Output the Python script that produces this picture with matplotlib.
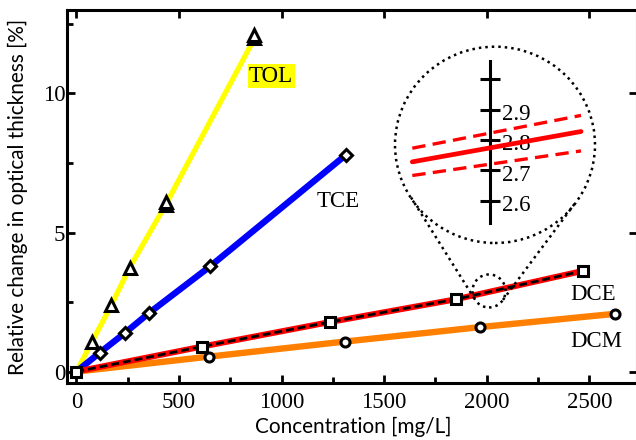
import numpy as np
import matplotlib
matplotlib.use("Agg")
import matplotlib.pyplot as plt
from matplotlib.patches import Ellipse
from matplotlib.lines import Line2D

# ---------------- data ----------------
tol_x = [0, 77, 171, 260, 435, 868]
tol_y = [0, 1.08, 2.40, 3.74, 6.00, 11.98]
tol_rep_x = [435, 868]
tol_rep_y = [6.10, 12.09]

tce_x = [0, 114, 235, 353, 651, 1315]
tce_y = [0, 0.68, 1.38, 2.10, 3.78, 7.80]

dce_x = [0, 612, 1234, 1849, 2468]
dce_y = [0, 0.90, 1.78, 2.60, 3.62]

dcm_x = [0, 648, 1308, 1967, 2627]
dcm_y = [0, 0.54, 1.08, 1.60, 2.08]

x_ticks = [0, 500, 1000, 1500, 2000, 2500]
y_ticks = [0, 5, 10]

# zoomed inset (DCE fit with confidence band around 2000 mg/L)
inset_x = [1965, 2041]
inset_fit = [2.728, 2.828]
inset_upper = [2.773, 2.881]
inset_lower = [2.683, 2.764]
inset_ticks = [2.6, 2.7, 2.8, 2.9, 3.0]
inset_labels = ["2.6", "2.7", "2.8", "2.9", ""]
zoom_center = (2011, 2.90)

SERIF = "Liberation Serif"
SANS = "Lato"
FS = 16.5

W, H = 636, 440
fig = plt.figure(figsize=(W / 100, H / 100), dpi=100)
ax = fig.add_axes([66.7 / W, 56.7 / H, (637 - 66.7) / W, (383.3 - 10) / H])

ax.plot(tol_x, tol_y, color="#FFFF00", lw=3.8, solid_capstyle="butt", zorder=2)
ax.plot(tce_x, tce_y, color="#0000FF", lw=4.6, solid_capstyle="butt", zorder=2)
ax.plot(dcm_x, dcm_y, color="#FF8000", lw=4.6, solid_capstyle="butt", zorder=2)
ax.plot(dce_x, dce_y, color="#FF0000", lw=4.3, solid_capstyle="butt", zorder=2)
ax.plot(dce_x, dce_y, color="black", lw=1.9, ls=(0, (3, 1.5)), zorder=3)

mk = dict(ls="none", mfc="white", mec="black", mew=2.2, zorder=5, clip_on=False)
ax.plot(tol_x[1:], tol_y[1:], marker="^", ms=8.5, **mk)
ax.plot(tol_rep_x, tol_rep_y, marker="^", ms=8.5, **mk)
ax.plot(tce_x[1:], tce_y[1:], marker="D", ms=6.5, **mk)
ax.plot(dcm_x[1:], dcm_y[1:], marker="o", ms=6.5, **mk)
ax.plot(dce_x, dce_y, marker="s", ms=7, **mk)

ax.set_xlim(-47, 2732)
ax.set_ylim(-0.42, 13.0)
ax.set_xticks(x_ticks)
ax.set_yticks(y_ticks)
ax.set_xticks(np.array(x_ticks[:-1]) + 250, minor=True)
ax.set_yticks([2.5, 7.5, 12.5], minor=True)

for s in ax.spines.values():
    s.set_linewidth(2.2)
ax.tick_params(which="both", direction="in", top=True, right=True, width=2.0)
ax.tick_params(which="major", length=6)
ax.tick_params(which="minor", length=4, top=False, right=False)
ax.tick_params(axis="x", pad=6.5)
ax.tick_params(axis="y", pad=1.0)
for lab in ax.get_xticklabels() + ax.get_yticklabels():
    lab.set_fontfamily(SERIF)
    lab.set_fontsize(FS)

# axis labels, width fitted
ax.set_xlabel("Concentration [mg/L]", fontfamily=SANS, fontsize=14)
ax.set_ylabel("Relative change in optical thickness [%]", fontfamily=SANS, fontsize=14)
r = fig.canvas.get_renderer()
wb = ax.xaxis.label.get_window_extent(r).width
fs = 14 * 197 / wb
ax.xaxis.label.set_fontsize(fs)
ax.yaxis.label.set_fontsize(fs)
ax.xaxis.label.set_va("center")
ax.yaxis.label.set_va("center")
ax.yaxis.label.set_ha("center")
ax.xaxis.set_label_coords((353 - 66.7) / 570.3, (13.3 - 56.7) / 373.3)
ax.yaxis.set_label_coords((18 - 66.7) / 570.3, (243 - 56.7) / 373.3)

# series labels
tk = dict(fontfamily=SERIF, fontsize=FS, ha="center", va="center", zorder=6)
ax.text(949, 10.62, "TOL", bbox=dict(boxstyle="square,pad=0.06", fc="#FFFF00", ec="none"), **tk)
ax.text(1274, 6.13, "TCE", **tk)
ax.text(2516, 2.76, "DCE", **tk)
ax.text(2533, 1.08, "DCM", **tk)

# small zoom circle on the main axes
dot_ls = (0, (1, 1.6))
small = Ellipse(zoom_center, 33 / 0.2052, 33 / 27.84, fill=False, ec="black",
                lw=1.8, ls=dot_ls, zorder=6)
ax.add_patch(small)

# inset (magnifier)
ax_in = fig.add_axes([395 / W, (440 - 243) / H, 200 / W, (243 - 46.7) / H])
ax_in.patch.set_visible(False)
ax_in.set_xlim(1957.2, 2047.3)
ax_in.set_ylim(2.8 - (243 - 140) / 303.5, 2.8 + (140 - 46.7) / 303.5)
for k in ["top", "right", "bottom"]:
    ax_in.spines[k].set_visible(False)
ax_in.spines["left"].set_position(("data", 2000))
ax_in.spines["left"].set_bounds(2.528, 3.061)
ax_in.spines["left"].set_linewidth(2.2)
ax_in.set_xticks([])
ax_in.set_yticks(inset_ticks)
ax_in.tick_params(axis="y", direction="inout", length=15, width=2.2, labelleft=False)
for v, lab in zip(inset_ticks, inset_labels):
    ax_in.annotate(lab, xy=(2000, v), xytext=(8.5, -3.5), textcoords="offset points",
                   ha="left", va="center", fontfamily=SERIF, fontsize=FS)
ax_in.plot(inset_x, inset_fit, color="#FF0000", lw=3.4, solid_capstyle="round", zorder=3)
ax_in.plot(inset_x, inset_upper, color="#FF0000", lw=2.4, ls=(0, (4, 2.2)), zorder=3)
ax_in.plot(inset_x, inset_lower, color="#FF0000", lw=2.4, ls=(0, (4, 2.2)), zorder=3)
big = Ellipse((0.5, 0.5), 1, 1, transform=ax_in.transAxes, fill=False, ec="black",
              lw=1.8, ls=dot_ls, clip_on=False)
ax_in.add_patch(big)

# tangent lines joining the two circles (display coords)
C1 = ax_in.transAxes.transform((0.5, 0.5))
bb = ax_in.get_window_extent()
R = (bb.width + bb.height) / 4
C2 = ax.transData.transform(zoom_center)
rr = 16.5
d = C2 - C1
D = np.hypot(*d)
u = d / D
up = np.array([-u[1], u[0]])
c = (R - rr) / D
s = np.sqrt(1 - c * c)
inv = fig.transFigure.inverted()
for sg in (1, -1):
    n = c * u + sg * s * up
    p1 = inv.transform(C1 + R * n)
    p2 = inv.transform(C2 + rr * n)
    fig.add_artist(Line2D([p1[0], p2[0]], [p1[1], p2[1]], color="black", lw=1.8,
                          ls=dot_ls, transform=fig.transFigure))

fig.savefig("out.png", dpi=100)
